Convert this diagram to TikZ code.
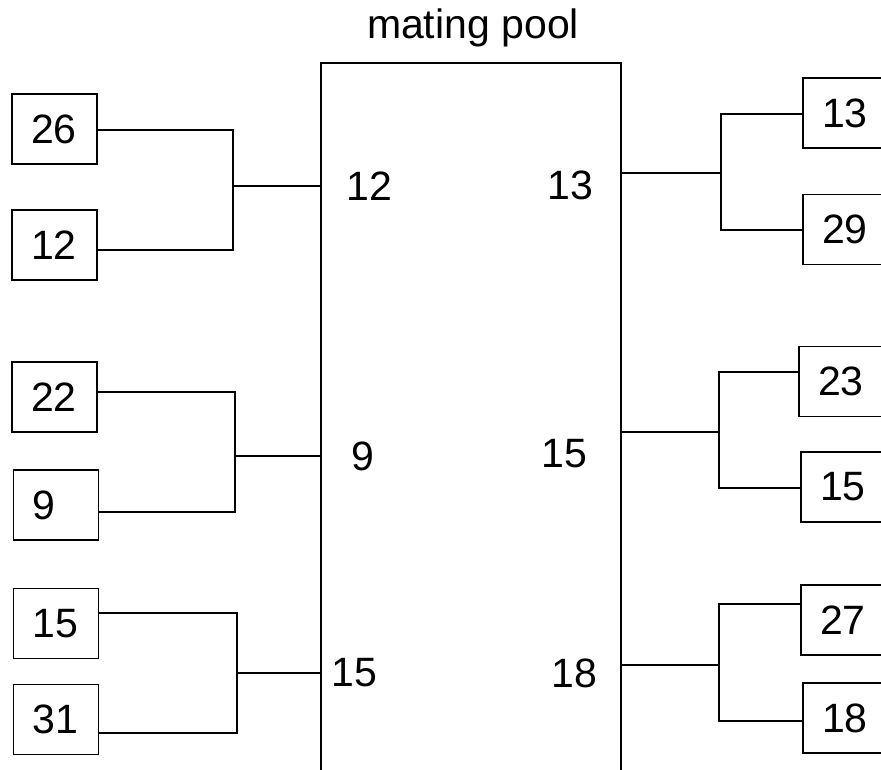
\documentclass[tikz,border=0pt]{standalone}
\usepackage{fontspec}
\setmainfont{Liberation Sans}
\usepackage{tikz}
\usetikzlibrary{positioning, calc}

\begin{document}
\begin{tikzpicture}[
    x=0.5pt, y=-0.5pt,
    every node/.style={font=\fontsize{20.5}{24}\selectfont},
    chrom/.style={draw, rectangle, line width=0.9pt, minimum height=35pt,
                  text width=23.5pt, inner xsep=9.5pt, inner ysep=0pt, align=left},
    val/.style={inner sep=0pt, anchor=base west},
    link/.style={line width=0.9pt}
]
\useasboundingbox (0,0) rectangle (881,769);
\clip (0,0) rectangle (881,769);

% Pool
\node[anchor=base] (title) at (473,39) {mating pool};
\node[draw, line width=0.9pt, anchor=north west, minimum width=150pt,
      minimum height=400pt, inner sep=0pt] (pool) at (320,62) {};

% Parents (left)
\node[chrom] (l1) at (54.5,129) {26};
\node[chrom] (l2) at (54.5,245) {12};
\node[chrom] (l3) at (54.5,397) {22};
\node[chrom] (l4) at (56,505) {9};
\node[chrom] (l5) at (56,623.5) {15};
\node[chrom] (l6) at (56,719.5) {31};

% Parents (right)
\node[chrom] (r1) at (845.5,113) {13};
\node[chrom] (r2) at (845.5,229.5) {29};
\node[chrom] (r3) at (841.5,381.5) {23};
\node[chrom] (r4) at (843.5,487) {15};
\node[chrom] (r5) at (843.5,620) {27};
\node[chrom] (r6) at (845.5,718) {18};

% Winners inside the pool
\node[val] (w1) at (346,201) {12};
\node[val] (w2) at (351,470) {9};
\node[val] (w3) at (331,686) {15};
\node[val] (w4) at (547,200) {13};
\node[val] (w5) at (541,467) {15};
\node[val] (w6) at (551,687) {18};

% Fork corners
\coordinate (fl1t) at (233,130); \coordinate (fl1b) at (233,250); \coordinate (fl1m) at (233,186);
\coordinate (fl2t) at (235,392); \coordinate (fl2b) at (235,512); \coordinate (fl2m) at (235,456);
\coordinate (fl3t) at (237,613); \coordinate (fl3b) at (237,733); \coordinate (fl3m) at (237,673);
\coordinate (fr1t) at (721,114); \coordinate (fr1b) at (721,230); \coordinate (fr1m) at (721,173);
\coordinate (fr2t) at (719,372); \coordinate (fr2b) at (719,488); \coordinate (fr2m) at (719,432);
\coordinate (fr3t) at (719,604); \coordinate (fr3b) at (719,721); \coordinate (fr3m) at (719,665);

% Tournaments
\draw[link] (l1.east |- fl1t) -- (fl1t) -- (fl1b) -- (l2.east |- fl1b);
\draw[link] (fl1m) -- (fl1m -| pool.west);
\draw[link] (l3.east |- fl2t) -- (fl2t) -- (fl2b) -- (l4.east |- fl2b);
\draw[link] (fl2m) -- (fl2m -| pool.west);
\draw[link] (l5.east |- fl3t) -- (fl3t) -- (fl3b) -- (l6.east |- fl3b);
\draw[link] (fl3m) -- (fl3m -| pool.west);

\draw[link] (r1.west |- fr1t) -- (fr1t) -- (fr1b) -- (r2.west |- fr1b);
\draw[link] (fr1m) -- (fr1m -| pool.east);
\draw[link] (r3.west |- fr2t) -- (fr2t) -- (fr2b) -- (r4.west |- fr2b);
\draw[link] (fr2m) -- (fr2m -| pool.east);
\draw[link] (r5.west |- fr3t) -- (fr3t) -- (fr3b) -- (r6.west |- fr3b);
\draw[link] (fr3m) -- (fr3m -| pool.east);
\end{tikzpicture}
\end{document}
